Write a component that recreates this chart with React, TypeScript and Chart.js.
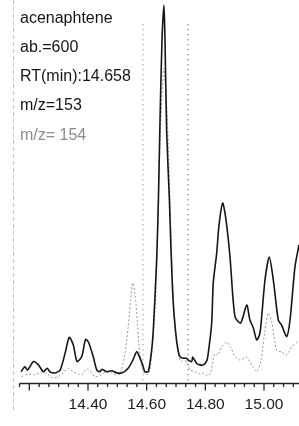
import React, { useEffect, useRef } from "react";
import { Chart, registerables } from "chart.js";

Chart.register(...registerables);

// m/z 153 trace (solid black)
const TIME_153 = [
  14.172, 14.185, 14.194, 14.214, 14.231, 14.248, 14.261, 14.27, 14.2875, 14.305,
  14.322, 14.336, 14.35, 14.3625, 14.3785, 14.3915, 14.401, 14.418, 14.43, 14.441,
  14.447, 14.464, 14.481, 14.4955, 14.515, 14.537, 14.553, 14.566, 14.577, 14.5875,
  14.594, 14.6056, 14.617, 14.6226, 14.634, 14.64, 14.6455, 14.6523, 14.659, 14.6625,
  14.668, 14.6775, 14.683, 14.69, 14.698, 14.7068, 14.7136, 14.725, 14.736, 14.742,
  14.7535, 14.757, 14.7706, 14.782, 14.793, 14.8047, 14.81, 14.8217, 14.827, 14.8387,
  14.8466, 14.859, 14.8705, 14.884, 14.901, 14.9206, 14.941, 14.952, 14.9635, 14.975,
  14.9864, 15.0034, 15.018, 15.0317, 15.0487, 15.06, 15.0774, 15.0887, 15.1056, 15.1193,
];
const ABUND_153 = [
  0.35, 1.7, 0.8, 3.1, 2.2, 0.35, 1.3, 0.35, 0, 0.8,
  5.4, 9.7, 7.6, 3.1, 4.4, 9.1, 8.5, 4.4, 0.8, 0.35,
  1.0, 0.35, 0.6, 0.1, 0, 1.3, 3.5, 5.8, 4.1, 1.9,
  0.35, 0.4, 6.25, 11.7, 30.7, 47, 68.75, 90.5, 100, 90.5,
  66, 47, 33.4, 19.8, 11.7, 6.25, 4.4, 4.0, 4.0, 3.5,
  3.1, 4.3, 2.6, 2.2, 2.2, 3.3, 5.4, 13.6, 24.5, 32.6,
  40.2, 46.2, 41.6, 31.6, 15.3, 13.6, 18.5, 14.4, 12.3, 9.0,
  10.9, 25.3, 31.5, 25.3, 14.4, 13.0, 9.9, 14.4, 28.9, 34.8,
];

// m/z 154 trace (dotted grey)
const TIME_154 = [
  14.174, 14.1955, 14.219, 14.243, 14.2646, 14.2817, 14.2987, 14.315, 14.333, 14.35,
  14.366, 14.3785, 14.3956, 14.4126, 14.424, 14.447, 14.461, 14.481, 14.492, 14.509,
  14.526, 14.537, 14.545, 14.552, 14.56, 14.568, 14.574, 14.584, 14.594, 14.6045,
  14.611, 14.6216, 14.632, 14.64, 14.647, 14.654, 14.6575, 14.6625, 14.669, 14.6745,
  14.6796, 14.6847, 14.6915, 14.7, 14.708, 14.717, 14.727, 14.7375, 14.748, 14.765,
  14.782, 14.792, 14.809, 14.819, 14.8263, 14.833, 14.843, 14.8556, 14.873, 14.8875,
  14.901, 14.918, 14.941, 14.952, 14.9625, 14.975, 14.99, 15.0034, 15.0147, 15.026,
  15.043, 15.06, 15.0774, 15.0945, 15.1116, 15.1193,
];
const ABUND_154 = [
  -1.0, -0.3, -0.5, 0.3, -0.5, -1.4, -1.0, 0, 1.3, 0.35,
  -0.3, -0.5, 1.1, 0, -1.0, -0.5, 0.3, 0, -0.5, -0.3,
  5.4, 12.5, 19.8, 24.5, 21.7, 14.4, 7.6, 1.4, -0.3, -0.3,
  0.8, 9.0, 22.6, 47, 66, 78.3, 82.9, 79.6, 71.5, 60.6,
  47, 33.4, 19.8, 9.0, 5.4, 3.0, 4.1, 2.7, 0.8, 0.3,
  -0.3, 0, -0.8, 0.3, 3.5, 5.4, 4.9, 7.1, 8.4, 6.8,
  4.4, 3.5, 4.3, 3.0, 1.7, 0.3, 3.5, 11.7, 16.3, 13.9,
  6.25, 5.7, 4.9, 7.1, 8.2, 9.0,
];

// integration window markers (dotted verticals)
const MARKER_TIMES = [14.5875, 14.741];
const MARKER_RANGE = [94.8, -2];

// axis
const X_LABELS = [14.4, 14.6, 14.8, 15.0];
const MINOR_PER_MAJOR = 6;
const MINOR_BEFORE_FIRST = 7;
const FRAME_TIME = 14.1443;
const X_MIN = 14.1;
const X_MAX = 15.1193;
const Y_MIN = -2.72;
const Y_MAX = 101.4;

// info text
const INFO_LINES = ["acenaphtene", "ab.=600", "RT(min):14.658", "m/z=153"];
const INFO_GRAY = "m/z= 154";

const FONT = "'Liberation Sans', Arial, sans-serif";

const decorPlugin = {
  id: "decor",
  afterDraw(chart: any) {
    const { ctx, chartArea, scales } = chart;
    const x = scales.x;
    const yAxis = Math.round(chartArea.bottom) + 0.5;
    ctx.save();
    // left dashed frame line
    const fx = Math.round(x.getPixelForValue(FRAME_TIME)) + 0.5;
    ctx.strokeStyle = "#c4c4c4";
    ctx.lineWidth = 1;
    ctx.setLineDash([4, 3]);
    ctx.beginPath();
    ctx.moveTo(fx, chartArea.top);
    ctx.lineTo(fx, yAxis + 27);
    ctx.stroke();
    ctx.setLineDash([]);
    // axis line + ticks
    const step = (X_LABELS[1] - X_LABELS[0]) / MINOR_PER_MAJOR;
    const start = X_LABELS[0] - MINOR_BEFORE_FIRST * step;
    ctx.strokeStyle = "#222";
    ctx.lineWidth = 1.5;
    ctx.beginPath();
    ctx.moveTo(x.getPixelForValue(start), yAxis);
    ctx.lineTo(chartArea.right, yAxis);
    ctx.stroke();
    ctx.lineWidth = 1.3;
    for (let k = -MINOR_BEFORE_FIRST; ; k++) {
      const v = X_LABELS[0] + k * step;
      if (v > X_MAX) break;
      const px = x.getPixelForValue(v);
      const major = ((k % MINOR_PER_MAJOR) + MINOR_PER_MAJOR) % MINOR_PER_MAJOR === 0;
      ctx.beginPath();
      ctx.moveTo(px, yAxis);
      ctx.lineTo(px, yAxis + (major ? 7 : 3.5));
      ctx.stroke();
    }
    ctx.restore();
  },
};

export default function App() {
  const ref = useRef<HTMLCanvasElement | null>(null);

  useEffect(() => {
    if (!ref.current) return;
    const markerSets = MARKER_TIMES.map((t, i) => ({
      label: "marker" + i,
      data: [
        { x: t, y: MARKER_RANGE[0] },
        { x: t, y: MARKER_RANGE[1] },
      ],
      borderColor: i === 0 ? "#8a8a8a" : "#555",
      borderWidth: 1.2,
      borderDash: [1, 4],
      pointRadius: 0,
      tension: 0,
      order: 3,
    }));
    const chart = new Chart(ref.current, {
      type: "line",
      data: {
        datasets: [
          ...markerSets,
          {
            label: "m/z=154",
            data: TIME_154.map((t, i) => ({ x: t, y: ABUND_154[i] })),
            borderColor: "#9a9a9a",
            borderWidth: 1,
            borderDash: [2, 2],
            pointRadius: 0,
            tension: 0.25,
            order: 2,
          },
          {
            label: "m/z=153",
            data: TIME_153.map((t, i) => ({ x: t, y: ABUND_153[i] })),
            borderColor: "#161616",
            borderWidth: 1.6,
            pointRadius: 0,
            tension: 0.25,
            order: 1,
          },
        ],
      },
      options: {
        animation: false,
        responsive: false,
        maintainAspectRatio: false,
        layout: { padding: 0 },
        plugins: {
          legend: { display: false },
          tooltip: { enabled: false },
          title: { display: false },
        },
        scales: {
          x: {
            type: "linear",
            min: X_MIN,
            max: X_MAX,
            grid: { display: false, drawTicks: false },
            border: { display: false },
            afterBuildTicks: (scale: any) => {
              scale.ticks = X_LABELS.map((v) => ({ value: v }));
            },
            afterFit: (scale: any) => {
              scale.height = 43;
            },
            ticks: {
              autoSkip: false,
              maxRotation: 0,
              padding: 12,
              color: "#222",
              font: { family: FONT, size: 15.5 },
              callback: (v: any) => Number(v).toFixed(2),
            },
          },
          y: {
            type: "linear",
            display: false,
            min: Y_MIN,
            max: Y_MAX,
          },
        },
      },
      plugins: [decorPlugin],
    });
    return () => chart.destroy();
  }, []);

  return (
    <div style={{ position: "absolute", left: 0, top: 0, width: 299, height: 426, background: "#fff" }}>
      <canvas ref={ref} width={299} height={426} style={{ position: "absolute", left: 0, top: 0 }} />
      <div
        style={{
          position: "absolute",
          left: 20,
          top: 2.5,
          fontFamily: FONT,
          fontSize: 16,
          lineHeight: "29.3px",
          color: "#151515",
          whiteSpace: "pre",
        }}
      >
        {INFO_LINES.map((s) => (
          <div key={s}>{s}</div>
        ))}
        <div style={{ color: "#8c8c8c" }}>{INFO_GRAY}</div>
      </div>
    </div>
  );
}
